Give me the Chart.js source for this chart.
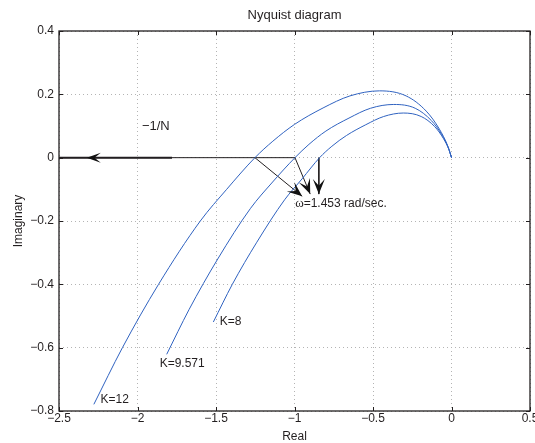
<!DOCTYPE html>
<html>
<head>
<meta charset="utf-8">
<script src="https://cdn.jsdelivr.net/npm/chart.js@4.4.1/dist/chart.umd.min.js"></script>
<style>
  html, body { margin: 0; padding: 0; background: #fff; }
  #wrap { width: 535px; height: 443px; }
</style>
</head>
<body>
<div id="wrap"><canvas id="nyquist"></canvas></div>
<script>
// Nyquist loci (real / imaginary parts)
const k12Re = [-2.278, -2.096, -1.866, -1.600, -1.432, -1.252, -1.138, -1.0, -0.818, -0.647, -0.458, -0.289, -0.161, -0.077, -0.024, 0]
const k12Im = [-0.779, -0.6, -0.4, -0.2, -0.1, 0, 0.052, 0.105, 0.157, 0.195, 0.211, 0.195, 0.147, 0.09, 0.037, 0]

const k9Re = [-1.814, -1.672, -1.489, -1.28, -1.145, -0.997, -0.908, -0.8, -0.653, -0.516, -0.368, -0.231, -0.128, -0.061, -0.019, 0]
const k9Im = [-0.621, -0.48, -0.32, -0.16, -0.08, 0, 0.042, 0.084, 0.125, 0.156, 0.168, 0.156, 0.117, 0.072, 0.03, 0]

const k8Re = [-1.517, -1.396, -1.24, -1.063, -0.952, -0.84, -0.762, -0.669, -0.546, -0.432, -0.307, -0.193, -0.107, -0.051, -0.016, 0]
const k8Im = [-0.519, -0.4, -0.267, -0.133, -0.067, 0, 0.036, 0.07, 0.104, 0.13, 0.141, 0.13, 0.098, 0.06, 0.025, 0]

const curveLabels = ['K=12', 'K=9.571', 'K=8']
const labelRe = [-2.235, -1.859, -1.476]
const labelIm = [-0.765, -0.65, -0.518]

// -1/N locus on the real axis, arrow pointing left
const locusRe = [-2.5, -0.997]
const locusBoldRe = [-2.5, -1.78]
const locusTipRe = -2.323

// crossing-point arrows (start on real axis, tip below)
const arrowFromRe = [-1.252, -0.997, -0.845]
const arrowToRe = [-0.951, -0.9, -0.845]
const arrowToIm = [-0.122, -0.115, -0.115]

const xTickValues = [-2.5, -2, -1.5, -1, -0.5, 0, 0.5]
const yTickValues = [-0.8, -0.6, -0.4, -0.2, 0, 0.2, 0.4]

const FONT = "'Liberation Sans', Arial, sans-serif"
const INK = '#231f20'
const BLUE = '#2f62c0'
const GRID = '#b4b4b4'

const fmt = (v) => {
  const s = Math.abs(v) < 1e-9 ? '0' : String(Math.round(v * 10) / 10)
  return s.replace('-', '\u2212')
}

const toPoints = (re, im) => re.map((x, i) => ({ x, y: im[i] }))

const curve = (label, re, im) => ({
  label,
  data: toPoints(re, im),
  borderColor: BLUE,
  borderWidth: 1,
  pointRadius: 0,
  showLine: true,
  cubicInterpolationMode: 'monotone',
})

const segment = (label, pts, width) => ({
  label,
  data: pts,
  borderColor: INK,
  borderWidth: width,
  pointRadius: 0,
  showLine: true,
  tension: 0,
})

const arrowSets = arrowFromRe.map((re, i) =>
  segment('arrow' + i, [{ x: re, y: 0 }, { x: arrowToRe[i], y: arrowToIm[i] }], 1))

const head = (ctx, fx, fy, tx, ty, len, half) => {
  const ang = Math.atan2(ty - fy, tx - fx)
  ctx.save()
  ctx.translate(tx, ty)
  ctx.rotate(ang)
  ctx.beginPath()
  ctx.moveTo(0, 0)
  ctx.lineTo(-len, -half)
  ctx.lineTo(-len * 0.55, 0)
  ctx.lineTo(-len, half)
  ctx.closePath()
  ctx.fill()
  ctx.restore()
}

const decor = {
  id: 'decor',
  afterDraw(chart) {
    const { ctx, chartArea: a, scales: { x, y } } = chart
    ctx.save()

    // box and inward ticks
    ctx.strokeStyle = INK
    ctx.lineWidth = 1.3
    ctx.strokeRect(a.left, a.top, a.right - a.left, a.bottom - a.top)
    ctx.lineWidth = 1
    ctx.beginPath()
    x.ticks.forEach(t => {
      const px = Math.round(x.getPixelForValue(t.value)) + 0.5
      ctx.moveTo(px, a.bottom); ctx.lineTo(px, a.bottom - 4)
      ctx.moveTo(px, a.top); ctx.lineTo(px, a.top + 4)
    })
    y.ticks.forEach(t => {
      const py = Math.round(y.getPixelForValue(t.value)) + 0.5
      ctx.moveTo(a.left, py); ctx.lineTo(a.left + 4, py)
      ctx.moveTo(a.right, py); ctx.lineTo(a.right - 4, py)
    })
    ctx.stroke()

    // title
    ctx.fillStyle = INK
    ctx.textAlign = 'center'
    ctx.textBaseline = 'middle'
    ctx.font = `13px ${FONT}`
    ctx.fillText('Nyquist diagram', (a.left + a.right) / 2, a.top / 2)

    // arrow heads
    ctx.fillStyle = '#111'
    head(ctx, x.getPixelForValue(locusBoldRe[1]), y.getPixelForValue(0),
      x.getPixelForValue(locusTipRe), y.getPixelForValue(0), 14, 5)
    arrowFromRe.forEach((re, i) => {
      head(ctx, x.getPixelForValue(re), y.getPixelForValue(0),
        x.getPixelForValue(arrowToRe[i]), y.getPixelForValue(arrowToIm[i]), 15, 6)
    })

    // text annotations
    ctx.fillStyle = INK
    ctx.textAlign = 'left'
    ctx.font = `12px ${FONT}`
    curveLabels.forEach((txt, i) => {
      ctx.fillText(txt, x.getPixelForValue(labelRe[i]), y.getPixelForValue(labelIm[i]))
    })

    ctx.font = `13px ${FONT}`
    ctx.fillText('\u22121/N', x.getPixelForValue(-1.972), y.getPixelForValue(0.1))

    const wx = x.getPixelForValue(-0.996)
    const wy = y.getPixelForValue(-0.145)
    ctx.font = `13px 'Liberation Serif', serif`
    ctx.fillText('\u03c9', wx, wy)
    const ww = ctx.measureText('\u03c9').width
    ctx.font = `12px ${FONT}`
    ctx.fillText('=1.453 rad/sec.', wx + ww, wy)

    ctx.restore()
  }
}

new Chart(document.getElementById('nyquist'), {
  type: 'scatter',
  data: {
    datasets: [
      curve('K=12', k12Re, k12Im),
      curve('K=9.571', k9Re, k9Im),
      curve('K=8', k8Re, k8Im),
      segment('-1/N', locusRe.map(v => ({ x: v, y: 0 })), 1),
      segment('-1/N bold', locusBoldRe.map(v => ({ x: v, y: 0 })), 2),
      ...arrowSets,
    ]
  },
  options: {
    responsive: true,
    maintainAspectRatio: false,
    animation: false,
    events: [],
    layout: { padding: { top: 31, right: 5, left: 0, bottom: 0 } },
    plugins: {
      legend: { display: false },
      tooltip: { enabled: false },
    },
    scales: {
      x: {
        type: 'linear',
        min: -2.5,
        max: 0.5,
        afterBuildTicks: (s) => { s.ticks = xTickValues.map(value => ({ value })) },
        afterFit: (s) => { s.height = 32; s.paddingLeft = 0; s.paddingRight = 0 },
        grid: { color: GRID, lineWidth: 1, drawTicks: false },
        border: { display: false, dash: [1, 3] },
        ticks: {
          padding: 0,
          autoSkip: false,
          maxRotation: 0,
          color: INK,
          font: { family: FONT, size: 12 },
          callback: (v) => fmt(v),
        },
        title: {
          display: true,
          text: 'Real',
          color: INK,
          font: { family: FONT, size: 12, lineHeight: 1 },
          padding: { top: 0, bottom: 0 },
        },
      },
      y: {
        type: 'linear',
        min: -0.8,
        max: 0.4,
        afterBuildTicks: (s) => { s.ticks = yTickValues.map(value => ({ value })) },
        afterFit: (s) => { s.width = 59; s.paddingTop = 0; s.paddingBottom = 0 },
        grid: { color: GRID, lineWidth: 1, drawTicks: false },
        border: { display: false, dash: [1, 3] },
        ticks: {
          padding: 5,
          color: INK,
          font: { family: FONT, size: 12 },
          callback: (v) => fmt(v),
        },
        title: {
          display: true,
          text: 'Imaginary',
          color: INK,
          font: { family: FONT, size: 12, lineHeight: 1.2 },
          padding: { top: 11, bottom: 0 },
        },
      },
    },
  },
  plugins: [decor],
})
</script>
</body>
</html>
